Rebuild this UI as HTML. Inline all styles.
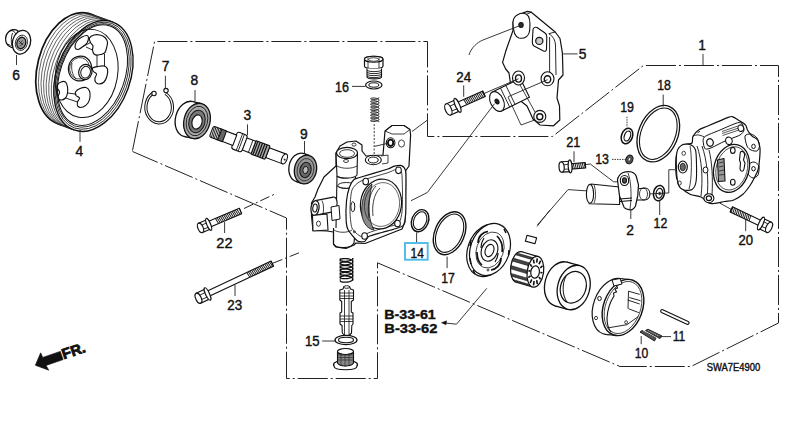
<!DOCTYPE html>
<html><head><meta charset="utf-8">
<style>
html,body{margin:0;padding:0;background:#fff;}
body{width:793px;height:439px;overflow:hidden;}
svg{display:block;}
.t{font-family:"Liberation Sans",sans-serif;font-size:13.8px;fill:#111;stroke:#111;stroke-width:0.4px;}
.b{font-family:"Liberation Sans",sans-serif;font-size:13.6px;font-weight:bold;fill:#111;stroke:#111;stroke-width:0.4px;}
.d{fill:none;stroke:#222;stroke-width:1;stroke-dasharray:30 3 2 3;}
.l{fill:none;stroke:#222;stroke-width:0.9;}
.p{fill:#fff;stroke:#111;stroke-width:1.1;stroke-linejoin:round;}
.q{fill:none;stroke:#111;stroke-width:0.8;}
</style></head><body>
<svg width="793" height="439" viewBox="0 0 793 439">
<rect width="793" height="439" fill="#fff"/>
<path d="M132.5,150.5 L154.6,41.5 L427.5,41.5 L427.5,136.5 L552.5,136.5 L643.4,65.5 L778.5,65.5 L778.5,323 L691,366.5 L620,366.5 L377.5,262.8 L377.5,378.5 L286.5,378.5 L286.5,218 L132.5,151.5" class="d"/>
<line x1="412" y1="131.5" x2="427.5" y2="120" class="l"/>
<ellipse rx="36.8" ry="57.3" transform="translate(74.2,68.9) rotate(14.3)" class="p" style="stroke-width:1.7"/>
<path d="M90.7,14.1 L112.9,22.1 L73.9,129.9 L57.7,123.7 Z" fill="#fff" stroke="none"/>
<path d="M90.7,14.1 L112.9,22.1 M57.7,123.7 L73.9,129.9" class="q" style="stroke-width:1.5"/>
<ellipse rx="36.8" ry="57.3" transform="translate(76.94,69.91) rotate(15.07)" class="q" style="stroke-width:0.7;stroke:#333"/>
<ellipse rx="36.8" ry="57.3" transform="translate(79.69,70.93) rotate(15.84)" class="q" style="stroke-width:0.7;stroke:#333"/>
<ellipse rx="36.8" ry="57.3" transform="translate(82.43,71.94) rotate(16.61)" class="q" style="stroke-width:0.7;stroke:#333"/>
<ellipse rx="36.8" ry="57.3" transform="translate(85.17,72.96) rotate(17.39)" class="q" style="stroke-width:0.7;stroke:#333"/>
<ellipse rx="36.8" ry="57.3" transform="translate(87.91,73.97) rotate(18.16)" class="q" style="stroke-width:0.7;stroke:#333"/>
<ellipse rx="36.8" ry="57.3" transform="translate(90.66,74.99) rotate(18.93)" class="q" style="stroke-width:0.7;stroke:#333"/>
<ellipse rx="36.8" ry="57.3" transform="translate(93.4,76) rotate(19.7)" class="p" style="stroke-width:1.4"/>
<ellipse rx="35.199999999999996" ry="55.5" transform="translate(93.10000000000001,75.7) rotate(19.7)" class="q" style="stroke-width:0.8"/>
<ellipse rx="33.599999999999994" ry="53.699999999999996" transform="translate(92.80000000000001,75.4) rotate(19.7)" class="q" style="stroke-width:0.8"/>
<ellipse rx="32.199999999999996" ry="52.099999999999994" transform="translate(92.5,75.1) rotate(19.7)" class="q" style="stroke-width:1"/>
<ellipse rx="31" ry="44.5" transform="translate(86.6,73.4) rotate(10.3)" class="q" style="stroke-width:1"/>
<path d="M75.0,47.0 C74.8,45.6 75.8,42.7 77.0,41.0 C78.2,39.3 80.3,37.9 82.0,37.0 C83.7,36.1 85.9,35.3 87.0,35.5 C88.1,35.7 88.5,36.8 88.5,38.0 C88.5,39.2 87.9,41.6 87.0,43.0 C86.1,44.4 84.5,45.4 83.0,46.5 C81.5,47.6 79.3,49.4 78.0,49.5 C76.7,49.6 75.2,48.4 75.0,47.0 Z" class="p" style="stroke-width:1.15;fill:none"/>
<path d="M89.5,38.0 C90.1,36.8 92.2,35.5 94.0,35.0 C95.8,34.5 98.2,34.6 100.0,35.0 C101.8,35.4 103.8,36.3 105.0,37.5 C106.2,38.7 107.2,40.2 107.5,42.0 C107.8,43.8 107.0,46.2 106.5,48.0 C106.0,49.8 105.9,51.8 104.5,53.0 C103.1,54.2 99.8,54.8 98.0,55.0 C96.2,55.2 94.9,54.8 94.0,54.0 C93.1,53.2 92.7,51.3 92.5,50.0 C92.3,48.7 93.3,47.2 93.0,46.0 C92.7,44.8 91.1,43.8 90.5,42.5 C89.9,41.2 88.9,39.2 89.5,38.0 Z" class="p" style="stroke-width:1.15;fill:none"/>
<path d="M92.5,68.0 C93.2,67.2 96.1,66.8 98.0,66.5 C99.9,66.2 102.4,65.6 104.0,66.0 C105.6,66.4 107.0,67.3 107.5,69.0 C108.0,70.7 107.6,73.8 107.0,76.0 C106.4,78.2 105.3,80.7 104.0,82.0 C102.7,83.3 100.4,84.0 99.0,84.0 C97.6,84.0 96.2,83.0 95.5,82.0 C94.8,81.0 94.8,79.3 95.0,78.0 C95.2,76.7 96.8,75.1 96.5,74.0 C96.2,72.9 94.2,72.5 93.5,71.5 C92.8,70.5 91.8,68.8 92.5,68.0 Z" class="p" style="stroke-width:1.15;fill:none"/>
<path d="M75.5,92.0 C76.2,90.8 78.2,89.2 80.0,88.5 C81.8,87.8 84.4,87.1 86.0,87.5 C87.6,87.9 88.8,89.4 89.5,91.0 C90.2,92.6 90.2,95.0 90.0,97.0 C89.8,99.0 89.2,101.3 88.0,103.0 C86.8,104.7 84.7,106.4 83.0,107.0 C81.3,107.6 78.9,107.3 78.0,106.5 C77.1,105.7 77.2,103.4 77.5,102.0 C77.8,100.6 79.8,99.1 79.5,98.0 C79.2,96.9 76.7,96.5 76.0,95.5 C75.3,94.5 74.8,93.2 75.5,92.0 Z" class="p" style="stroke-width:1.15;fill:none"/>
<path d="M57.5,85.0 C58.1,83.9 59.7,82.5 61.0,82.0 C62.3,81.5 64.4,81.2 65.5,82.0 C66.6,82.8 67.2,85.2 67.5,87.0 C67.8,88.8 67.8,91.2 67.5,93.0 C67.2,94.8 66.6,96.8 65.5,98.0 C64.4,99.2 62.2,100.1 61.0,100.0 C59.8,99.9 58.2,98.8 58.0,97.5 C57.8,96.2 59.6,93.5 59.5,92.0 C59.4,90.5 57.8,89.7 57.5,88.5 C57.2,87.3 56.9,86.1 57.5,85.0 Z" class="p" style="stroke-width:1.15;fill:none"/>
<path d="M97,55 L97,66.5 M104.5,54 L104.5,66 M67.5,93 L76.5,94.2 M65.5,98 L77.5,102 M86,47 L92.5,50 M83,46.5 L90.5,42.5" class="q" style="stroke-width:0.9"/>
<ellipse rx="11.5" ry="12.5" transform="translate(80,68.5) rotate(15)" class="p" style="stroke-width:1.2"/>
<ellipse rx="9.8" ry="10.8" transform="translate(79.5,68.3) rotate(15)" class="q" style="stroke-width:0.7"/>
<path d="M72,63 C71,68 72,75 76,79" class="q" style="stroke-width:0.8"/>
<ellipse rx="6.6" ry="7.6" transform="translate(85.3,72) rotate(15)" class="p" style="stroke-width:1.2"/>
<ellipse rx="4.8" ry="5.9" transform="translate(85.6,72.2) rotate(15)" class="q" style="stroke-width:1"/>
<line x1="80" y1="130" x2="80" y2="141.8" class="l"/>
<path d="M17.5,30.5 C15,29 11,29.5 8.5,32 C6,34.5 5.3,38 5.8,41 C6.3,44 8.5,46.5 11.5,47.3 L16,48 L18,31 Z" class="p" style="stroke-width:1.3"/>
<path d="M11,30.5 C13,30.5 15,32 16,34 M6.5,43.5 L10.5,45.5 M12.5,33 C11,37 11,42 12,46" class="q" style="stroke-width:0.9"/>
<ellipse rx="9" ry="12" transform="translate(21.5,42.2) rotate(15)" class="p" style="stroke-width:1.3"/>
<ellipse rx="6" ry="7.8" transform="translate(21.4,42.8) rotate(15)" class="q" style="stroke-width:0.8"/>
<ellipse rx="4.4" ry="5.8" transform="translate(21.3,43) rotate(15)" class="p" style="fill:#9a9a9a;stroke-width:1.3"/>
<path d="M19,41 L23,45 M19.5,44 L22.5,40.5 M20,46.5 L23.5,42.5" class="q" style="stroke-width:0.7"/>
<line x1="16.5" y1="55" x2="16.5" y2="65" class="l"/>
<line x1="703" y1="53.9" x2="703" y2="65.3" class="l"/>
<line x1="745.7" y1="219.7" x2="745.7" y2="231.2" class="l"/>
<path d="M154.2,92.8 A13.3,15.6 0 1 0 165.4,93.5" class="q" style="stroke-width:3.2;stroke:#111"/>
<path d="M154.2,92.8 A13.3,15.6 0 1 0 165.4,93.5" class="q" style="stroke-width:1.2;stroke:#fff"/>
<ellipse cx="154" cy="93.5" rx="2.2" ry="2.2" class="p" style="stroke-width:1.1"/>
<ellipse cx="166" cy="90.6" rx="2.2" ry="2.2" class="p" style="stroke-width:1.1"/>
<line x1="165.4" y1="75.7" x2="165.4" y2="89" class="l"/>
<ellipse rx="13" ry="18" transform="translate(188.5,119) rotate(15)" class="p" style="stroke-width:1.3;fill:#fff"/>
<path d="M192.88,101.54 L201.38,103.54 L192.62,138.46 L184.12,136.46 Z" fill="#fff" stroke="none"/>
<path d="M192.88,101.54 L201.38,103.54 M184.12,136.46 L192.62,138.46" class="q" style="stroke-width:1.3"/>
<ellipse rx="13" ry="18" transform="translate(197,121) rotate(15)" class="p" style="fill:#aaa;stroke-width:1.3"/>
<ellipse rx="10.5" ry="15" transform="translate(197,121) rotate(15)" class="q" style="stroke-width:0.9;stroke:#222"/>
<ellipse rx="8" ry="11.5" transform="translate(197,121.5) rotate(15)" class="p" style="fill:#777;stroke-width:1"/>
<ellipse rx="5" ry="7.2" transform="translate(197,122) rotate(15)" class="p" style="stroke-width:1.2"/>
<line x1="195" y1="90" x2="195" y2="101" class="l"/>
<g transform="translate(211.4,131.4) rotate(20.7)">
<rect x="60" y="-5.2" width="18" height="10.4" class="p"/>
<ellipse cx="78" cy="0" rx="2.6" ry="5.2" class="p"/>
<circle cx="78.5" cy="0.5" r="1" fill="#333"/>
<rect x="45" y="-7.2" width="15" height="14.4" rx="1" class="p" style="fill:#aaa"/>
<line x1="47" y1="-7.2" x2="47" y2="7.2" class="q" style="stroke-width:1.2"/>
<line x1="49.5" y1="-7.2" x2="49.5" y2="7.2" class="q" style="stroke-width:1.2"/>
<line x1="52" y1="-7.2" x2="52" y2="7.2" class="q" style="stroke-width:1.2"/>
<line x1="54.5" y1="-7.2" x2="54.5" y2="7.2" class="q" style="stroke-width:1.2"/>
<line x1="57" y1="-7.2" x2="57" y2="7.2" class="q" style="stroke-width:1.2"/>
<rect x="35" y="-6.5" width="10" height="13" class="p"/>
<line x1="42" y1="-6.5" x2="42" y2="6.5" class="q"/>
<rect x="24.5" y="-9" width="11" height="18" rx="2.5" class="p"/>
<line x1="30" y1="-9" x2="30" y2="9" class="q"/><line x1="32" y1="-9" x2="32" y2="9" class="q"/>
<rect x="12" y="-5.5" width="13" height="11" class="p"/>
<rect x="8" y="-5.8" width="6" height="11.6" class="p" style="fill:#666"/>
<rect x="0" y="-5.8" width="9" height="11.6" rx="2" class="p"/>
<line x1="1.2" y1="-5.8" x2="2.1" y2="5.8" class="q" style="stroke-width:0.9"/>
<line x1="2.8" y1="-5.8" x2="3.6999999999999997" y2="5.8" class="q" style="stroke-width:0.9"/>
<line x1="4.4" y1="-5.8" x2="5.300000000000001" y2="5.8" class="q" style="stroke-width:0.9"/>
<line x1="6" y1="-5.8" x2="6.9" y2="5.8" class="q" style="stroke-width:0.9"/>
<line x1="7.6" y1="-5.8" x2="8.5" y2="5.8" class="q" style="stroke-width:0.9"/>
</g>
<line x1="247.5" y1="124.4" x2="247.5" y2="135.3" class="l"/>
<ellipse rx="11" ry="14.5" transform="translate(300,167.5) rotate(12)" class="p" style="stroke-width:1.3;fill:#fff"/>
<path d="M304.14,153.64 L309.64,155.64 L301.36,183.36 L295.86,181.36 Z" fill="#fff" stroke="none"/>
<path d="M304.14,153.64 L309.64,155.64 M295.86,181.36 L301.36,183.36" class="q" style="stroke-width:1.3"/>
<ellipse rx="11" ry="14.5" transform="translate(305.5,169.5) rotate(12)" class="p" style="fill:#999;stroke-width:1.3"/>
<ellipse rx="8.3" ry="11.3" transform="translate(305.5,169.7) rotate(12)" class="q" style="stroke-width:0.9;stroke:#333"/>
<ellipse rx="5.6" ry="7.8" transform="translate(305.5,170) rotate(12)" class="p" style="fill:#666;stroke-width:1"/>
<ellipse rx="2.6" ry="3.6" transform="translate(305.5,170) rotate(12)" class="p" style="fill:#bbb;stroke-width:0.9"/>
<line x1="304.5" y1="141" x2="304.5" y2="154" class="l"/>
<g transform="translate(208.7,224.4) rotate(-22.85)">
<rect x="0" y="-3" width="34.5" height="6" class="p"/>
<line x1="8.5" y1="-3" x2="9.4" y2="3" class="q" style="stroke-width:0.9"/>
<line x1="10.3" y1="-3" x2="11.2" y2="3" class="q" style="stroke-width:0.9"/>
<line x1="12.1" y1="-3" x2="13.0" y2="3" class="q" style="stroke-width:0.9"/>
<line x1="13.9" y1="-3" x2="14.8" y2="3" class="q" style="stroke-width:0.9"/>
<line x1="15.7" y1="-3" x2="16.6" y2="3" class="q" style="stroke-width:0.9"/>
<line x1="17.5" y1="-3" x2="18.4" y2="3" class="q" style="stroke-width:0.9"/>
<line x1="19.3" y1="-3" x2="20.2" y2="3" class="q" style="stroke-width:0.9"/>
<line x1="21.1" y1="-3" x2="22.0" y2="3" class="q" style="stroke-width:0.9"/>
<line x1="22.9" y1="-3" x2="23.8" y2="3" class="q" style="stroke-width:0.9"/>
<line x1="24.7" y1="-3" x2="25.6" y2="3" class="q" style="stroke-width:0.9"/>
<line x1="26.5" y1="-3" x2="27.4" y2="3" class="q" style="stroke-width:0.9"/>
<line x1="28.3" y1="-3" x2="29.2" y2="3" class="q" style="stroke-width:0.9"/>
<line x1="30.1" y1="-3" x2="31.0" y2="3" class="q" style="stroke-width:0.9"/>
<line x1="31.9" y1="-3" x2="32.8" y2="3" class="q" style="stroke-width:0.9"/>
<path d="M34.0,-3 L34.5,-2 L34.5,2 L34.0,3" class="q"/>
<path d="M-8.9,-5.1 L0,-5.1 L0,5.1 L-8.9,5.1 Z" class="p"/>
<ellipse cx="0" cy="0" rx="1.9" ry="6.4" class="p" style="stroke-width:1.2"/>
<path d="M-8.9,-1.9 L-1.3,-2.2 M-8.9,2.2 L-1.3,2.6" class="q"/>
<ellipse cx="-8.9" cy="0" rx="2.6" ry="5.1" class="p" style="stroke-width:1.2"/>
</g>
<line x1="224.6" y1="222" x2="224.6" y2="233" class="l"/>
<path d="M244,208.5 L275,194" class="d" style="stroke-dasharray:10 3 2 3"/>
<g transform="translate(207.5,294) rotate(-25.13)">
<rect x="0" y="-2.8" width="71.6" height="5.6" class="p"/>
<line x1="44.6" y1="-2.8" x2="45.5" y2="2.8" class="q" style="stroke-width:0.9"/>
<line x1="46.4" y1="-2.8" x2="47.3" y2="2.8" class="q" style="stroke-width:0.9"/>
<line x1="48.2" y1="-2.8" x2="49.1" y2="2.8" class="q" style="stroke-width:0.9"/>
<line x1="50.0" y1="-2.8" x2="50.9" y2="2.8" class="q" style="stroke-width:0.9"/>
<line x1="51.8" y1="-2.8" x2="52.7" y2="2.8" class="q" style="stroke-width:0.9"/>
<line x1="53.6" y1="-2.8" x2="54.5" y2="2.8" class="q" style="stroke-width:0.9"/>
<line x1="55.4" y1="-2.8" x2="56.3" y2="2.8" class="q" style="stroke-width:0.9"/>
<line x1="57.2" y1="-2.8" x2="58.1" y2="2.8" class="q" style="stroke-width:0.9"/>
<line x1="59.0" y1="-2.8" x2="59.9" y2="2.8" class="q" style="stroke-width:0.9"/>
<line x1="60.8" y1="-2.8" x2="61.7" y2="2.8" class="q" style="stroke-width:0.9"/>
<line x1="62.6" y1="-2.8" x2="63.5" y2="2.8" class="q" style="stroke-width:0.9"/>
<line x1="64.4" y1="-2.8" x2="65.3" y2="2.8" class="q" style="stroke-width:0.9"/>
<line x1="66.2" y1="-2.8" x2="67.1" y2="2.8" class="q" style="stroke-width:0.9"/>
<line x1="68.0" y1="-2.8" x2="68.9" y2="2.8" class="q" style="stroke-width:0.9"/>
<line x1="69.8" y1="-2.8" x2="70.7" y2="2.8" class="q" style="stroke-width:0.9"/>
<path d="M71.1,-2.8 L71.6,-1.7999999999999998 L71.6,1.7999999999999998 L71.1,2.8" class="q"/>
<path d="M-10.0,-5.4 L0,-5.4 L0,5.4 L-10.0,5.4 Z" class="p"/>
<ellipse cx="0" cy="0" rx="2.0" ry="6.8" class="p" style="stroke-width:1.2"/>
<path d="M-10.0,-2.0 L-1.4,-2.4 M-10.0,2.4 L-1.4,2.7" class="q"/>
<ellipse cx="-10.0" cy="0" rx="2.7" ry="5.4" class="p" style="stroke-width:1.2"/>
</g>
<line x1="235" y1="285" x2="235" y2="296" class="l"/>
<path d="M273,263.2 L301,252" class="d" style="stroke-dasharray:10 3 2 3"/>
<path d="M336,153 L340,146 L347,142 L356,141 L362,145 L362,151 L366,156 L383,155 L385,131 L392,125.5 L404,125.5 L410,129.5 L410.6,135 L409,166 L405.5,171 L405.6,184 L405,222 L402,229 L365,243.5 L356,243 L354,245 L346,248.5 L336,247 L333.5,244 L333.5,232 L327,231 L313,230.5 L311.5,216 L311.5,203 L315,197 L318,189 L324,177 L336,166 Z" class="p" style="stroke-width:1.2"/>
<path d="M337,176 L336,228 M355.5,176 L355,226" class="q" style="stroke-width:1.1"/>
<path d="M337,186 C341,189 351,189 355.5,186" class="q"/>
<ellipse cx="346.3" cy="185.5" rx="8.5" ry="3" class="q" style="stroke-width:0.9"/>
<path d="M359.5,177.5 C363.4,176.3 383.1,170.5 387.2,169.2 C391.3,167.9 392.7,166.6 394.4,166.2 C396.1,165.8 400.3,165.0 401.6,165.6 C402.9,166.2 405.2,168.4 405.7,171.5 C406.2,174.6 405.9,187.1 405.9,192.0 C405.9,196.9 406.0,209.6 405.7,213.4 C405.4,217.2 404.7,223.2 403.5,225.0 C402.3,226.8 397.9,227.9 395.4,228.8 C392.9,229.7 385.1,231.6 382.0,232.5 C378.9,233.4 370.7,235.4 368.7,236.5 C366.7,237.6 365.9,241.0 364.6,241.5 C363.3,242.0 359.4,242.3 357.5,241.0 C355.6,239.7 349.5,232.3 348.2,230.0 C346.9,227.7 346.4,225.0 346.2,221.6 C346.0,218.2 346.1,205.0 346.5,201.0 C346.9,197.0 348.6,189.5 349.5,187.0 C350.4,184.5 352.8,180.6 354.0,179.5 C355.2,178.4 355.6,178.7 359.5,177.5 Z" class="p" style="stroke-width:1.2"/>
<path d="M361.0,181.0 C365.1,179.0 382.9,174.3 387.0,173.0 C391.1,171.7 394.3,169.6 396.0,169.5 C397.7,169.4 400.7,169.4 401.5,172.0 C402.3,174.6 402.4,187.3 402.5,192.0 C402.6,196.7 402.4,208.5 402.0,212.0 C401.6,215.5 400.6,220.4 399.5,222.0 C398.4,223.6 395.3,224.7 393.0,225.5 C390.7,226.3 382.9,228.1 380.0,229.0 C377.1,229.9 370.2,232.1 368.0,233.0 C365.8,233.9 362.9,237.1 361.0,236.5 C359.1,235.9 353.3,231.1 352.0,228.0 C350.7,224.9 350.0,214.4 350.0,210.0 C350.0,205.6 350.7,193.4 352.0,190.0 C353.3,186.6 356.9,183.0 361.0,181.0 Z" class="q" style="stroke-width:0.8"/>
<ellipse rx="20.5" ry="25" transform="translate(381,204) rotate(8)" class="p" style="stroke-width:1.2"/>
<path d="M372,184 C364,190 360.5,203 362,216 C363.5,224 368,229 374,230 C369,221 367,207 372,184 Z" class="p" style="fill:#8a8a8a;stroke-width:0.8"/>
<path d="M376,186 C369,193 367,207 369,218 M380,188 C373,195 372,207 373,216" class="q" style="stroke-width:0.8"/>
<ellipse rx="17.5" ry="22" transform="translate(382,204.5) rotate(8)" class="q" style="stroke-width:0.6"/>
<ellipse cx="365.7" cy="181.6" rx="2.8" ry="3.3" class="p" style="stroke-width:1.1"/>
<ellipse cx="398.5" cy="170.3" rx="2.8" ry="3.3" class="p" style="stroke-width:1.1"/>
<ellipse cx="397.5" cy="223.6" rx="2.8" ry="3.3" class="p" style="stroke-width:1.1"/>
<ellipse cx="364.6" cy="236" rx="2.8" ry="3.3" class="p" style="stroke-width:1.1"/>
<ellipse cx="352.8" cy="206.7" rx="2" ry="5" class="q" style="stroke-width:1"/>
<ellipse cx="354.4" cy="231.8" rx="1" ry="1" class="q"/>
<path d="M336,153 L337,176 C340,179 354,179 357,175 L357.5,153 Z" class="p"/>
<ellipse cx="347" cy="153" rx="10.5" ry="5.6" class="p"/>
<ellipse cx="347" cy="153.5" rx="7.5" ry="3.8" class="q"/>
<path d="M337,166 C342,169 352,169 357,166" class="q"/>
<ellipse cx="346" cy="161" rx="2.5" ry="1.5" class="q"/>
<ellipse cx="354" cy="144.6" rx="2" ry="1.6" class="q"/>
<ellipse cx="373.3" cy="160" rx="8" ry="4.8" class="p"/>
<ellipse cx="373.3" cy="160" rx="5" ry="3" class="p" style="stroke-width:1"/>
<path d="M381,156 L388,155 L388,163 L382,164" class="q"/>
<path d="M385,131 L392,125.5 L404,125.5 L410,129.5 L404,134 L392,134 Z" class="q"/>
<ellipse cx="390.6" cy="142.8" rx="4.3" ry="5" class="p" style="stroke-width:1.1"/>
<ellipse cx="390.6" cy="142.8" rx="2.6" ry="3.2" class="p" style="stroke-width:1.8"/>
<line x1="375" y1="146.3" x2="389" y2="143" class="l"/>
<ellipse cx="401.5" cy="143.5" rx="3" ry="3.6" class="q"/>
<ellipse rx="4" ry="7.5" transform="translate(333,204.5) rotate(8)" class="p" style="stroke-width:1.1;fill:#fff"/>
<path d="M332.69,211.91 L314.69,215.41 L315.31,200.59 L333.31,197.09 Z" fill="#fff" stroke="none"/>
<path d="M332.69,211.91 L314.69,215.41 M333.31,197.09 L315.31,200.59" class="q" style="stroke-width:1.1"/>
<ellipse rx="4" ry="7.5" transform="translate(315,208) rotate(8)" class="p" style="stroke-width:1.2"/>
<ellipse rx="2.2" ry="4" transform="translate(315,208) rotate(8)" class="p" style="stroke-width:1.1"/>
<path d="M322,200.5 C324,204 324,212 322.5,215.5" class="q" style="stroke-width:0.8"/>
<path d="M331,207 L339,205.5 L340,219 L332,220.5 Z" class="p" style="stroke-width:1"/>
<path d="M312.5,215.5 L327,214 L328,230 L313,231 Z" class="p"/>
<ellipse cx="318.5" cy="223.7" rx="2" ry="2.6" class="q"/>
<path d="M333.5,228 L333.5,244 C336,249 351,249 354,243 L354.5,238" class="q" style="stroke-width:1.1"/>
<path d="M334,230 C338,233 348,233 352,230" class="q"/>
<line x1="374.2" y1="124" x2="374.2" y2="156" class="l" style="stroke-dasharray:2 1.5"/>
<path d="M364.5,59 C364.5,55.5 383,55.5 383,59 L383,66 C383,69.5 364.5,69.5 364.5,66 Z" class="p" style="stroke-width:1.2"/>
<ellipse cx="373.7" cy="59.2" rx="9.2" ry="3" class="p"/>
<ellipse cx="373.7" cy="59.5" rx="5" ry="1.8" class="q"/>
<line x1="368" y1="57.5" x2="368" y2="68" class="q"/>
<line x1="379" y1="57.5" x2="379" y2="68" class="q"/>
<path d="M367,68.5 L367,77 C367,79.5 381.5,79.5 381.5,77 L381.5,68.5" class="p"/>
<path d="M367,70.5 C370,72.0 378,72.0 381.5,70.5" class="q" style="stroke-width:0.9"/>
<path d="M367,72.5 C370,74.0 378,74.0 381.5,72.5" class="q" style="stroke-width:0.9"/>
<path d="M367,74.5 C370,76.0 378,76.0 381.5,74.5" class="q" style="stroke-width:0.9"/>
<path d="M367,76.5 C370,78.0 378,78.0 381.5,76.5" class="q" style="stroke-width:0.9"/>
<ellipse cx="373.8" cy="85" rx="8.2" ry="4" class="p" style="stroke-width:1.2"/>
<ellipse cx="373.8" cy="85" rx="5" ry="2.2" class="q" style="stroke-width:1"/>
<line x1="352" y1="86.4" x2="365.5" y2="86.4" class="l"/>
<path d="M379.00,97.40 L378.94,97.72 L378.75,98.03 L378.44,98.33 L378.02,98.60 L377.50,98.85 L376.90,99.07 L376.24,99.25 L375.53,99.39 L374.80,99.49 L374.07,99.54 L373.36,99.55 L372.70,99.53 L372.10,99.46 L371.58,99.37 L371.16,99.24 L370.85,99.10 L370.66,98.94 L370.60,98.77 L370.66,98.61 L370.85,98.45 L371.16,98.30 L371.58,98.18 L372.10,98.08 L372.70,98.02 L373.36,97.99 L374.07,98.00 L374.80,98.06 L375.53,98.16 L376.24,98.30 L376.90,98.47 L377.50,98.69 L378.02,98.94 L378.44,99.22 L378.75,99.51 L378.94,99.83 L379.00,100.14 L378.94,100.46 L378.75,100.78 L378.44,101.07 L378.02,101.35 L377.50,101.60 L376.90,101.81 L376.24,101.99 L375.53,102.13 L374.80,102.23 L374.07,102.29 L373.36,102.30 L372.70,102.27 L372.10,102.21 L371.58,102.11 L371.16,101.99 L370.85,101.84 L370.66,101.68 L370.60,101.52 L370.66,101.35 L370.85,101.19 L371.16,101.05 L371.58,100.92 L372.10,100.83 L372.70,100.76 L373.36,100.73 L374.07,100.75 L374.80,100.80 L375.53,100.90 L376.24,101.04 L376.90,101.22 L377.50,101.44 L378.02,101.68 L378.44,101.96 L378.75,102.26 L378.94,102.57 L379.00,102.89 L378.94,103.21 L378.75,103.52 L378.44,103.82 L378.02,104.09 L377.50,104.34 L376.90,104.56 L376.24,104.74 L375.53,104.88 L374.80,104.98 L374.07,105.03 L373.36,105.04 L372.70,105.02 L372.10,104.95 L371.58,104.86 L371.16,104.73 L370.85,104.59 L370.66,104.43 L370.60,104.26 L370.66,104.09 L370.85,103.93 L371.16,103.79 L371.58,103.67 L372.10,103.57 L372.70,103.51 L373.36,103.48 L374.07,103.49 L374.80,103.55 L375.53,103.64 L376.24,103.78 L376.90,103.96 L377.50,104.18 L378.02,104.43 L378.44,104.70 L378.75,105.00 L378.94,105.31 L379.00,105.63 L378.94,105.95 L378.75,106.26 L378.44,106.56 L378.02,106.84 L377.50,107.09 L376.90,107.30 L376.24,107.48 L375.53,107.62 L374.80,107.72 L374.07,107.77 L373.36,107.79 L372.70,107.76 L372.10,107.70 L371.58,107.60 L371.16,107.48 L370.85,107.33 L370.66,107.17 L370.60,107.01 L370.66,106.84 L370.85,106.68 L371.16,106.53 L371.58,106.41 L372.10,106.31 L372.70,106.25 L373.36,106.22 L374.07,106.24 L374.80,106.29 L375.53,106.39 L376.24,106.53 L376.90,106.71 L377.50,106.92 L378.02,107.17 L378.44,107.45 L378.75,107.75 L378.94,108.06 L379.00,108.38 L378.94,108.70 L378.75,109.01 L378.44,109.31 L378.02,109.58 L377.50,109.83 L376.90,110.05 L376.24,110.23 L375.53,110.37 L374.80,110.46 L374.07,110.52 L373.36,110.53 L372.70,110.51 L372.10,110.44 L371.58,110.34 L371.16,110.22 L370.85,110.08 L370.66,109.92 L370.60,109.75 L370.66,109.58 L370.85,109.42 L371.16,109.28 L371.58,109.16 L372.10,109.06 L372.70,108.99 L373.36,108.97 L374.07,108.98 L374.80,109.04 L375.53,109.13 L376.24,109.27 L376.90,109.45 L377.50,109.67 L378.02,109.92 L378.44,110.19 L378.75,110.49 L378.94,110.80 L379.00,111.12 L378.94,111.44 L378.75,111.75 L378.44,112.05 L378.02,112.33 L377.50,112.58 L376.90,112.79 L376.24,112.97 L375.53,113.11 L374.80,113.21 L374.07,113.26 L373.36,113.28 L372.70,113.25 L372.10,113.19 L371.58,113.09 L371.16,112.97 L370.85,112.82 L370.66,112.66 L370.60,112.49 L370.66,112.33 L370.85,112.17 L371.16,112.02 L371.58,111.90 L372.10,111.80 L372.70,111.74 L373.36,111.71 L374.07,111.73 L374.80,111.78 L375.53,111.88 L376.24,112.02 L376.90,112.20 L377.50,112.41 L378.02,112.66 L378.44,112.94 L378.75,113.24 L378.94,113.55 L379.00,113.87 L378.94,114.19 L378.75,114.50 L378.44,114.80 L378.02,115.07 L377.50,115.32 L376.90,115.54 L376.24,115.72 L375.53,115.86 L374.80,115.95 L374.07,116.01 L373.36,116.02 L372.70,115.99 L372.10,115.93 L371.58,115.83 L371.16,115.71 L370.85,115.57 L370.66,115.41 L370.60,115.24 L370.66,115.07 L370.85,114.91 L371.16,114.77 L371.58,114.64 L372.10,114.55 L372.70,114.48 L373.36,114.46 L374.07,114.47 L374.80,114.53 L375.53,114.62 L376.24,114.76 L376.90,114.94 L377.50,115.16 L378.02,115.41 L378.44,115.68 L378.75,115.98 L378.94,116.29 L379.00,116.61 L378.94,116.93 L378.75,117.24 L378.44,117.54 L378.02,117.82 L377.50,118.06 L376.90,118.28 L376.24,118.46 L375.53,118.60 L374.80,118.70 L374.07,118.75 L373.36,118.77 L372.70,118.74 L372.10,118.67 L371.58,118.58 L371.16,118.45 L370.85,118.31 L370.66,118.15 L370.60,117.98 L370.66,117.82 L370.85,117.66 L371.16,117.51 L371.58,117.39 L372.10,117.29 L372.70,117.23 L373.36,117.20 L374.07,117.21 L374.80,117.27 L375.53,117.37 L376.24,117.51 L376.90,117.69 L377.50,117.90 L378.02,118.15 L378.44,118.43 L378.75,118.72 L378.94,119.04 L379.00,119.36 L378.94,119.67 L378.75,119.99 L378.44,120.28 L378.02,120.56 L377.50,120.81 L376.90,121.03 L376.24,121.20 L375.53,121.34 L374.80,121.44 L374.07,121.50 L373.36,121.51 L372.70,121.48 L372.10,121.42 L371.58,121.32 L371.16,121.20 L370.85,121.05 L370.66,120.89 L370.60,120.73 L370.66,120.56 L370.85,120.40 L371.16,120.26 L371.58,120.13 L372.10,120.04 L372.70,119.97 L373.36,119.95 L374.07,119.96 L374.80,120.01 L375.53,120.11 L376.24,120.25 L376.90,120.43 L377.50,120.65 L378.02,120.90 L378.44,121.17 L378.75,121.47 L378.94,121.78 L379.00,122.10" fill="none" stroke="#111" stroke-width="1.0" stroke-linejoin="round"/>
<path d="M352.80,258.20 L352.70,258.68 L352.42,259.15 L351.96,259.59 L351.33,260.00 L350.55,260.37 L349.65,260.68 L348.65,260.94 L347.59,261.14 L346.50,261.27 L345.41,261.33 L344.35,261.33 L343.35,261.26 L342.45,261.14 L341.67,260.97 L341.04,260.75 L340.58,260.50 L340.30,260.22 L340.20,259.94 L340.30,259.65 L340.58,259.38 L341.04,259.13 L341.67,258.91 L342.45,258.74 L343.35,258.61 L344.35,258.55 L345.41,258.54 L346.50,258.61 L347.59,258.74 L348.65,258.93 L349.65,259.19 L350.55,259.51 L351.33,259.88 L351.96,260.29 L352.42,260.73 L352.70,261.20 L352.80,261.68 L352.70,262.16 L352.42,262.62 L351.96,263.07 L351.33,263.48 L350.55,263.85 L349.65,264.16 L348.65,264.42 L347.59,264.62 L346.50,264.75 L345.41,264.81 L344.35,264.81 L343.35,264.74 L342.45,264.62 L341.67,264.44 L341.04,264.23 L340.58,263.97 L340.30,263.70 L340.20,263.42 L340.30,263.13 L340.58,262.86 L341.04,262.61 L341.67,262.39 L342.45,262.21 L343.35,262.09 L344.35,262.02 L345.41,262.02 L346.50,262.08 L347.59,262.21 L348.65,262.41 L349.65,262.67 L350.55,262.99 L351.33,263.35 L351.96,263.76 L352.42,264.21 L352.70,264.68 L352.80,265.15 L352.70,265.63 L352.42,266.10 L351.96,266.54 L351.33,266.95 L350.55,267.32 L349.65,267.64 L348.65,267.90 L347.59,268.09 L346.50,268.22 L345.41,268.29 L344.35,268.28 L343.35,268.22 L342.45,268.09 L341.67,267.92 L341.04,267.70 L340.58,267.45 L340.30,267.18 L340.20,266.89 L340.30,266.61 L340.58,266.33 L341.04,266.08 L341.67,265.86 L342.45,265.69 L343.35,265.57 L344.35,265.50 L345.41,265.50 L346.50,265.56 L347.59,265.69 L348.65,265.89 L349.65,266.15 L350.55,266.46 L351.33,266.83 L351.96,267.24 L352.42,267.69 L352.70,268.15 L352.80,268.63 L352.70,269.11 L352.42,269.58 L351.96,270.02 L351.33,270.43 L350.55,270.80 L349.65,271.12 L348.65,271.37 L347.59,271.57 L346.50,271.70 L345.41,271.76 L344.35,271.76 L343.35,271.69 L342.45,271.57 L341.67,271.40 L341.04,271.18 L340.58,270.93 L340.30,270.65 L340.20,270.37 L340.30,270.08 L340.58,269.81 L341.04,269.56 L341.67,269.34 L342.45,269.17 L343.35,269.04 L344.35,268.98 L345.41,268.98 L346.50,269.04 L347.59,269.17 L348.65,269.36 L349.65,269.62 L350.55,269.94 L351.33,270.31 L351.96,270.72 L352.42,271.16 L352.70,271.63 L352.80,272.11 L352.70,272.59 L352.42,273.05 L351.96,273.50 L351.33,273.91 L350.55,274.28 L349.65,274.59 L348.65,274.85 L347.59,275.05 L346.50,275.18 L345.41,275.24 L344.35,275.24 L343.35,275.17 L342.45,275.05 L341.67,274.87 L341.04,274.66 L340.58,274.41 L340.30,274.13 L340.20,273.85 L340.30,273.56 L340.58,273.29 L341.04,273.04 L341.67,272.82 L342.45,272.64 L343.35,272.52 L344.35,272.45 L345.41,272.45 L346.50,272.52 L347.59,272.65 L348.65,272.84 L349.65,273.10 L350.55,273.42 L351.33,273.78 L351.96,274.19 L352.42,274.64 L352.70,275.11 L352.80,275.58 L352.70,276.06 L352.42,276.53 L351.96,276.97 L351.33,277.39 L350.55,277.75 L349.65,278.07 L348.65,278.33 L347.59,278.52 L346.50,278.65 L345.41,278.72 L344.35,278.71 L343.35,278.65 L342.45,278.53 L341.67,278.35 L341.04,278.13 L340.58,277.88 L340.30,277.61 L340.20,277.32 L340.30,277.04 L340.58,276.76 L341.04,276.51 L341.67,276.30 L342.45,276.12 L343.35,276.00 L344.35,275.93 L345.41,275.93 L346.50,275.99 L347.59,276.12 L348.65,276.32 L349.65,276.58 L350.55,276.89 L351.33,277.26 L351.96,277.67 L352.42,278.12 L352.70,278.58 L352.80,279.06 L352.70,279.54 L352.42,280.01 L351.96,280.45 L351.33,280.86 L350.55,281.23 L349.65,281.55 L348.65,281.80 L347.59,282.00 L346.50,282.13 L345.41,282.19 L344.35,282.19 L343.35,282.13 L342.45,282.00 L341.67,281.83 L341.04,281.61 L340.58,281.36 L340.30,281.09 L340.20,280.80" fill="none" stroke="#111" stroke-width="1.3" stroke-linejoin="round"/>
<path d="M340.2,258 L340.2,281 M352.8,258 L352.8,281" class="q" style="stroke-width:0.8"/>
<path d="M344,286.5 L349.5,286.5 L350.5,289 L353.5,290 L353.5,300 L351.3,301.5 L351.3,312 L353,313 L353,324 L351.8,325.5 L351.5,333 L349,335.5 L344.5,335.5 L342.3,333 L342,325.5 L340,324 L340,313 L341.7,312 L341.7,301.5 L339.8,300 L339.8,290 L343,289 Z" class="p" style="stroke-width:1.1"/>
<path d="M340,293 L353.5,293 M340,296 L353.5,296 M340,298.5 L353.5,298.5 M340,316 L353,316 M340,319 L353,319 M340,321.5 L353,321.5 M344.5,290 L344.5,335 M349,290 L349,335" class="q" style="stroke-width:0.8"/>
<ellipse cx="346.7" cy="287" rx="3" ry="1.3" class="p" style="stroke-width:0.9"/>
<ellipse cx="346" cy="340" rx="11" ry="4.6" class="p" style="stroke-width:1.3"/>
<ellipse cx="346" cy="340" rx="7.5" ry="2.7" class="q" style="stroke-width:1.1"/>
<line x1="322.1" y1="341" x2="335.5" y2="341" class="l"/>
<ellipse cx="345.5" cy="364.5" rx="12" ry="4.2" class="p" style="stroke-width:1.2"/>
<path d="M334,364.5 L334,366 C334,371 357,371 357,366 L357,364.5" class="p" style="stroke-width:1.1"/>
<path d="M337.5,351.5 L337.5,363 C340,367 351,367 353.5,363 L353.5,351.5 Z" class="p" style="fill:#888;stroke-width:1.1"/>
<ellipse cx="345.5" cy="351.5" rx="8" ry="3" class="p" style="stroke-width:1.1"/>
<path d="M338,355 L353,355 M338,357.5 L353,357.5 M338,360 L353,360 M341,353 L341,366 M345,354 L345,367 M349,353 L349,366" class="q" style="stroke-width:0.6;stroke:#222"/>
<path d="M513,22.5 L515.3,17 L521,13.8 L527.3,11.4 L531.3,12.2 L555.2,32 L560,38.5 L562.4,52.9 L563,75 L558.5,80 L557,98 L559.5,106 L559.8,120 L553.5,125.8 L540,125 L533,119 L527,106 L512,94 L509,73 L505.7,69 L502.6,62.4 L505.7,51.3 L513,30.5 Z" class="p" style="stroke-width:1.2"/>
<path d="M531.3,12.2 L525,15 L527,33 M548.8,33.7 C553,36 555.2,40 555.5,45 L556,75 M549.6,37 L549.6,76 M555.2,32 L548.8,33.7" class="q" style="stroke-width:0.9"/>
<path d="M513,22.5 C513,15 521,12 526,14 C530,16 530.5,22 529.7,30 C529,37 524,39 519,38 C514,36.5 513,30 513,22.5 Z" class="p"/>
<ellipse cx="521" cy="25" rx="2.2" ry="2.5" class="p" style="fill:#333"/>
<path d="M533,30 C533,27.5 535,27 537,27.5 L545,33 C546.5,34 546.8,35 546.8,37 L546.5,49 C546.5,51 545,51.5 543.5,51 L534,46 C532.5,45 532.3,44 532.3,42 Z" class="p"/>
<ellipse cx="539.3" cy="40.9" rx="3.6" ry="3.6" class="p" style="fill:#ccc;stroke-width:1.2"/>
<g transform="translate(497,101.5) rotate(-26)"><path d="M0,-10.5 L31,-10.5 L31,10.5 L0,10.5 Z" class="p"/><ellipse rx="6.5" ry="10.5" class="p"/><ellipse rx="1.8" ry="2.6" class="p" style="fill:#222"/><line x1="9" y1="-10.5" x2="9" y2="10.5" class="q"/><line x1="15" y1="-10.5" x2="15" y2="10.5" class="q"/></g>
<ellipse cx="518.5" cy="78" rx="6" ry="7" class="p"/>
<ellipse cx="518.5" cy="78.5" rx="3" ry="3.6" class="p" style="stroke-width:1.4"/>
<ellipse cx="547.5" cy="78.8" rx="6.5" ry="7" class="p"/>
<ellipse cx="547.5" cy="79.3" rx="3.2" ry="3.6" class="p" style="stroke-width:1.4"/>
<path d="M508,97 L521,125 L540,118 M520,85 L535,112" class="q"/>
<ellipse cx="539.8" cy="116.4" rx="6" ry="6" class="p"/>
<ellipse cx="539.8" cy="116.8" rx="3" ry="3" class="p" style="stroke-width:1.4"/>
<line x1="563.2" y1="53.9" x2="577.6" y2="53.9" class="l"/>
<path d="M521.5,25 L483,40 C477,42.5 471,48 469,55" class="l"/>
<line x1="518.5" y1="78.8" x2="484" y2="93.5" class="l"/>
<line x1="547.5" y1="79.7" x2="508.2" y2="96.7" class="l"/>
<path d="M494.5,103.7 L427.3,192.5 L411,200.7" class="l"/>
<g transform="translate(457.5,105.4) rotate(-23.82)">
<rect x="0" y="-3" width="29.0" height="6" class="p"/>
<line x1="8.0" y1="-3" x2="8.9" y2="3" class="q" style="stroke-width:0.9"/>
<line x1="9.8" y1="-3" x2="10.7" y2="3" class="q" style="stroke-width:0.9"/>
<line x1="11.6" y1="-3" x2="12.5" y2="3" class="q" style="stroke-width:0.9"/>
<line x1="13.4" y1="-3" x2="14.3" y2="3" class="q" style="stroke-width:0.9"/>
<line x1="15.2" y1="-3" x2="16.1" y2="3" class="q" style="stroke-width:0.9"/>
<line x1="17.0" y1="-3" x2="17.9" y2="3" class="q" style="stroke-width:0.9"/>
<line x1="18.8" y1="-3" x2="19.7" y2="3" class="q" style="stroke-width:0.9"/>
<line x1="20.6" y1="-3" x2="21.5" y2="3" class="q" style="stroke-width:0.9"/>
<line x1="22.4" y1="-3" x2="23.3" y2="3" class="q" style="stroke-width:0.9"/>
<line x1="24.2" y1="-3" x2="25.1" y2="3" class="q" style="stroke-width:0.9"/>
<line x1="26.0" y1="-3" x2="26.9" y2="3" class="q" style="stroke-width:0.9"/>
<line x1="27.8" y1="-3" x2="28.7" y2="3" class="q" style="stroke-width:0.9"/>
<path d="M28.5,-3 L29.0,-2 L29.0,2 L28.5,3" class="q"/>
<path d="M-10.0,-6.0 L0,-6.0 L0,6.0 L-10.0,6.0 Z" class="p"/>
<ellipse cx="0" cy="0" rx="2.2" ry="7.5" class="p" style="stroke-width:1.2"/>
<path d="M-10.0,-2.2 L-1.5,-2.6 M-10.0,2.6 L-1.5,3.0" class="q"/>
<ellipse cx="-10.0" cy="0" rx="3.0" ry="6.0" class="p" style="stroke-width:1.2"/>
</g>
<line x1="463.7" y1="85.3" x2="463.7" y2="96.8" class="l"/>
<ellipse rx="19.6" ry="29.4" transform="translate(658.3,133.7) rotate(22.5)" class="q" style="stroke-width:1.3"/>
<ellipse rx="17.1" ry="26.9" transform="translate(658.3,133.7) rotate(22.5)" class="q" style="stroke-width:1.1"/>
<line x1="663.2" y1="94.6" x2="663.2" y2="106.5" class="l"/>
<ellipse rx="5.5" ry="8" transform="translate(627,136) rotate(20)" class="p" style="stroke-width:1.5"/>
<ellipse rx="3" ry="5.2" transform="translate(627.4,136) rotate(20)" class="p" style="stroke-width:1.2"/>
<line x1="627" y1="116.7" x2="627" y2="127" class="l" style="stroke-dasharray:1.5 1"/>
<ellipse rx="3.5" ry="4.5" transform="translate(629.4,159.4) rotate(20)" class="p" style="fill:#555;stroke-width:1"/>
<ellipse rx="1.3" ry="1.8" transform="translate(629.4,159.4) rotate(20)" class="p" style="stroke-width:0.6"/>
<line x1="612" y1="159.4" x2="626" y2="159.4" class="l" style="stroke-dasharray:1.5 1"/>
<g transform="translate(570.1,166.4) rotate(-4.09)">
<rect x="0" y="-2.7" width="15.4" height="5.4" class="p"/>
<line x1="1.5" y1="-2.7" x2="2.4" y2="2.7" class="q" style="stroke-width:0.9"/>
<line x1="3.3" y1="-2.7" x2="4.2" y2="2.7" class="q" style="stroke-width:0.9"/>
<line x1="5.1" y1="-2.7" x2="6.0" y2="2.7" class="q" style="stroke-width:0.9"/>
<line x1="6.9" y1="-2.7" x2="7.8" y2="2.7" class="q" style="stroke-width:0.9"/>
<line x1="8.7" y1="-2.7" x2="9.6" y2="2.7" class="q" style="stroke-width:0.9"/>
<line x1="10.5" y1="-2.7" x2="11.4" y2="2.7" class="q" style="stroke-width:0.9"/>
<line x1="12.3" y1="-2.7" x2="13.2" y2="2.7" class="q" style="stroke-width:0.9"/>
<line x1="14.1" y1="-2.7" x2="15.0" y2="2.7" class="q" style="stroke-width:0.9"/>
<path d="M14.9,-2.7 L15.4,-1.7000000000000002 L15.4,1.7000000000000002 L14.9,2.7" class="q"/>
<path d="M-8.5,-5.2 L0,-5.2 L0,5.2 L-8.5,5.2 Z" class="p"/>
<ellipse cx="0" cy="0" rx="1.9" ry="6.5" class="p" style="stroke-width:1.2"/>
<path d="M-8.5,-1.9 L-1.3,-2.3 M-8.5,2.3 L-1.3,2.6" class="q"/>
<ellipse cx="-8.5" cy="0" rx="2.6" ry="5.2" class="p" style="stroke-width:1.2"/>
</g>
<line x1="574" y1="151.3" x2="574" y2="162" class="l"/>
<path d="M585.5,164.7 L590.3,164 L613.6,181.8 L621,181.8" class="l"/>
<path d="M590.9,184 L619.6,187 L619.6,204.5 L589.3,203.7 Z" class="p" style="stroke-width:1.1"/>
<ellipse cx="590" cy="193.9" rx="3.6" ry="9.5" class="p" style="stroke-width:1.1"/>
<path d="M594,185 C596,190 596,199 594,203" class="q"/>
<path d="M636,189 L645,188 C651,188 652,199 645,200 L636,200 Z" class="p"/>
<ellipse cx="643.5" cy="194" rx="4" ry="6" class="q"/>
<path d="M622.6,172.7 C626,171.5 630,171.5 631.7,172 C634,173 636,175 636.3,176.5 L638.5,184.8 L637.8,195.4 L635.5,206 C634,209 632,210 630.2,209.8 C627,209.5 625,208.5 624.2,207.5 L619.5,196 L617.5,180 C618,176 620,174 622.6,172.7 Z" class="p" style="stroke-width:1.2"/>
<ellipse cx="624.5" cy="180.5" rx="4.2" ry="5" class="p" style="stroke-width:1.1"/>
<ellipse cx="624.5" cy="180.5" rx="2" ry="2.6" class="p" style="fill:#555"/>
<path d="M619.5,199 L632,198 M620,201.5 L632,200.5" class="q" style="stroke-width:1.2"/>
<path d="M628,173 C631,180 632,196 630,209" class="q"/>
<ellipse rx="5.4" ry="7.8" transform="translate(659,193.1) rotate(12)" class="p" style="stroke-width:1.5"/>
<ellipse rx="3.2" ry="5" transform="translate(659.3,193.3) rotate(12)" class="p" style="stroke-width:1.2"/>
<ellipse cx="659.6" cy="193.5" rx="1" ry="1.5" class="p" style="fill:#333;stroke-width:0.5"/>
<line x1="659.7" y1="201" x2="659.7" y2="215" class="l"/>
<line x1="630.8" y1="210" x2="630.8" y2="219" class="l"/>
<path d="M649.9,193.9 L665,193.1 L668.8,193 L668.8,169.7 L675,169.7" class="l"/>
<path d="M587,190.9 L568,189.6 L537.4,225" class="l"/>
<path d="M693.0,136.2 C694.0,134.2 696.5,131.5 698.7,130.0 C700.9,128.5 703.4,127.9 707.8,126.0 C712.2,124.1 724.5,118.8 728.3,117.4 C732.1,116.0 731.4,116.4 732.9,116.8 C734.4,117.2 736.7,119.1 738.6,120.3 C740.5,121.5 744.0,123.3 745.4,124.8 C746.8,126.3 746.7,128.8 747.7,130.5 C748.7,132.2 750.5,134.6 752.0,136.0 C753.5,137.4 756.5,138.2 757.7,140.0 C758.9,141.8 759.7,145.0 760.0,148.0 C760.3,151.0 759.8,156.7 759.5,160.0 C759.2,163.3 758.8,167.3 758.0,170.0 C757.2,172.7 755.5,175.6 754.3,178.0 C753.1,180.4 751.4,183.6 749.7,186.0 C748.0,188.4 745.3,192.2 742.9,194.3 C740.5,196.4 736.5,198.9 733.8,200.0 C731.1,201.1 727.8,201.0 724.8,201.5 C721.8,202.0 716.4,203.3 714.0,203.5 C711.6,203.7 710.9,204.0 708.9,203.0 C706.9,202.0 703.8,198.3 701.0,197.0 C698.2,195.7 692.9,195.7 690.0,194.3 C687.1,192.9 683.4,189.9 681.4,187.5 C679.4,185.1 677.7,181.8 676.8,178.4 C675.9,175.0 675.7,168.5 675.7,164.7 C675.7,160.9 676.1,155.9 676.8,153.3 C677.5,150.7 678.9,149.0 680.3,147.6 C681.7,146.2 684.2,144.9 686.0,144.2 C687.8,143.5 691.0,144.2 692.0,143.0 C693.0,141.8 692.0,138.1 693.0,136.2 Z" class="p" style="stroke-width:1.2"/>
<path d="M704.4,137.0 C706.6,135.1 715.6,131.9 720.0,130.0 C724.4,128.1 734.5,123.6 737.4,122.8 C740.3,122.0 741.1,123.0 742.0,124.0 C742.9,125.0 744.3,128.5 744.0,130.0 C743.7,131.5 742.5,133.5 740.0,135.0 C737.5,136.5 728.7,139.3 725.0,141.0 C721.3,142.7 714.6,146.4 712.0,147.5 C709.4,148.6 706.6,149.5 705.5,149.0 C704.4,148.5 703.6,145.6 703.5,144.0 C703.4,142.4 702.2,138.9 704.4,137.0 Z" class="q" style="stroke-width:1"/>
<path d="M693,136.2 C697,134 700,135 704.4,137 M697.5,132.8 L700,131.3" class="q" style="stroke-width:0.9"/>
<path d="M722,131.5 L738,126 M722,133.5 L738.5,128 M722.5,135.5 L739,130" class="q" style="stroke-width:0.7"/>
<ellipse rx="3.3" ry="3.8" transform="translate(710,142.5) rotate(-15)" class="p" style="stroke-width:1.2"/>
<ellipse rx="2.8" ry="3.3" transform="translate(740.8,128.2) rotate(-15)" class="p" style="stroke-width:1.1"/>
<ellipse rx="3.3" ry="3.8" transform="translate(728.9,140.8) rotate(-15)" class="p" style="stroke-width:1.1"/>
<path d="M745.0,136.0 C745.5,134.4 749.4,133.7 751.0,134.0 C752.6,134.3 755.9,136.4 757.0,138.0 C758.1,139.6 759.5,144.3 759.5,146.0 C759.5,147.7 758.1,150.5 757.0,151.0 C755.9,151.5 752.3,150.7 751.0,150.0 C749.7,149.3 747.8,147.9 747.0,146.0 C746.2,144.1 744.5,137.6 745.0,136.0 Z" class="q" style="stroke-width:1"/>
<path d="M748.0,165.0 C748.8,163.4 752.5,161.9 754.0,162.0 C755.5,162.1 758.5,164.3 759.0,166.0 C759.5,167.7 758.8,173.4 758.0,175.0 C757.2,176.6 754.3,178.1 753.0,178.0 C751.7,177.9 748.7,175.7 748.0,174.0 C747.3,172.3 747.2,166.6 748.0,165.0 Z" class="q" style="stroke-width:1"/>
<ellipse cx="753.5" cy="146.4" rx="1.8" ry="2.2" class="q" style="stroke-width:1"/>
<ellipse cx="753.5" cy="168.7" rx="1.8" ry="2.2" class="q" style="stroke-width:1"/>
<path d="M697,146 C702,160 703,180 701,196 M702,146 C707,160 709,180 707,198 M709,150 C712,162 713,178 712,195" class="q" style="stroke-width:0.9"/>
<ellipse cx="705.5" cy="170" rx="2.5" ry="3" class="p" style="stroke-width:1"/>
<ellipse rx="17.5" ry="24.3" transform="translate(731.5,168.4) rotate(15.2)" class="p" style="stroke-width:1.3"/>
<ellipse rx="15.5" ry="22" transform="translate(731.8,168.4) rotate(15.2)" class="q" style="stroke-width:0.7"/>
<path d="M741,151.5 C743.5,151 745,153 744.5,156 L743.5,160 L745,163 L744,169 C743.5,172 740.5,172 740,169 L740.5,163 L739.5,160 L740,155 C740,153 740,152 741,151.5 Z" class="q" style="stroke-width:1.1"/>
<path d="M717.5,160 L724,158.5 L725,181 L718.5,181.5 Z" class="p" style="fill:#999;stroke-width:1.1"/>
<path d="M719,163 L723.5,162 M719,167 L723.5,166 M719,171 L724,170 M719,175 L724,174.5" class="q" style="stroke-width:0.7"/>
<ellipse cx="732.8" cy="150.4" rx="2.3" ry="3" class="p" style="stroke-width:1.1"/>
<ellipse cx="732.8" cy="182.2" rx="2.3" ry="3" class="p" style="stroke-width:1.1"/>
<path d="M677.0,152.0 C677.7,148.7 680.3,146.0 682.0,145.0 C683.7,144.0 688.2,143.8 690.0,144.5 C691.8,145.2 694.6,147.3 695.5,150.0 C696.4,152.7 696.4,160.7 696.5,165.0 C696.6,169.3 696.6,178.7 696.0,182.0 C695.4,185.3 693.6,188.4 692.0,189.5 C690.4,190.6 685.8,190.6 684.0,190.0 C682.2,189.4 679.5,187.7 678.5,185.0 C677.5,182.3 676.7,174.4 676.5,170.0 C676.3,165.6 676.3,155.3 677.0,152.0 Z" class="p" style="stroke-width:1.1"/>
<ellipse cx="682.8" cy="167" rx="4.5" ry="6" class="p" style="stroke-width:1.2"/>
<ellipse cx="682.8" cy="167" rx="2.6" ry="3.8" class="p" style="fill:#666;stroke-width:0.8"/>
<ellipse cx="683.7" cy="153.3" rx="1.8" ry="2" class="q"/>
<ellipse cx="679.5" cy="183" rx="1.8" ry="2" class="q"/>
<path d="M690,146 C692,155 692,180 689,189" class="q" style="stroke-width:0.8"/>
<ellipse cx="708.9" cy="198.2" rx="5" ry="4.5" class="p" style="stroke-width:1.1"/>
<ellipse cx="708.9" cy="198.2" rx="2.6" ry="2.4" class="p" style="stroke-width:1.2"/>
<g transform="translate(761,223.5) rotate(-154.60)">
<rect x="0" y="-2.8" width="32.9" height="5.6" class="p"/>
<line x1="11.8" y1="-2.8" x2="12.7" y2="2.8" class="q" style="stroke-width:0.9"/>
<line x1="13.6" y1="-2.8" x2="14.5" y2="2.8" class="q" style="stroke-width:0.9"/>
<line x1="15.4" y1="-2.8" x2="16.3" y2="2.8" class="q" style="stroke-width:0.9"/>
<line x1="17.2" y1="-2.8" x2="18.1" y2="2.8" class="q" style="stroke-width:0.9"/>
<line x1="19.0" y1="-2.8" x2="19.9" y2="2.8" class="q" style="stroke-width:0.9"/>
<line x1="20.8" y1="-2.8" x2="21.7" y2="2.8" class="q" style="stroke-width:0.9"/>
<line x1="22.6" y1="-2.8" x2="23.5" y2="2.8" class="q" style="stroke-width:0.9"/>
<line x1="24.4" y1="-2.8" x2="25.3" y2="2.8" class="q" style="stroke-width:0.9"/>
<line x1="26.2" y1="-2.8" x2="27.1" y2="2.8" class="q" style="stroke-width:0.9"/>
<line x1="28.0" y1="-2.8" x2="28.9" y2="2.8" class="q" style="stroke-width:0.9"/>
<line x1="29.8" y1="-2.8" x2="30.7" y2="2.8" class="q" style="stroke-width:0.9"/>
<line x1="31.6" y1="-2.8" x2="32.5" y2="2.8" class="q" style="stroke-width:0.9"/>
<path d="M32.4,-2.8 L32.9,-1.7999999999999998 L32.9,1.7999999999999998 L32.4,2.8" class="q"/>
<path d="M-8.9,-5.6 L0,-5.6 L0,5.6 L-8.9,5.6 Z" class="p"/>
<ellipse cx="0" cy="0" rx="2.1" ry="7" class="p" style="stroke-width:1.2"/>
<path d="M-8.9,-2.1 L-1.4,-2.4 M-8.9,2.4 L-1.4,2.8" class="q"/>
<ellipse cx="-8.9" cy="0" rx="2.8" ry="5.6" class="p" style="stroke-width:1.2"/>
</g>
<line x1="731.3" y1="209.4" x2="720" y2="203.2" class="l"/>
<ellipse rx="8.3" ry="11.4" transform="translate(420.1,220.7) rotate(22)" class="q" style="stroke-width:1.4"/>
<ellipse rx="6.3" ry="9.3" transform="translate(420.1,220.7) rotate(22)" class="q" style="stroke-width:1.1"/>
<line x1="416.6" y1="232.5" x2="416.6" y2="243" class="l"/>
<ellipse rx="14.8" ry="22.5" transform="translate(449.6,233.2) rotate(24)" class="q" style="stroke-width:1.4"/>
<ellipse rx="12.6" ry="20.2" transform="translate(449.6,233.2) rotate(24)" class="q" style="stroke-width:1.1"/>
<line x1="447.1" y1="256.6" x2="447.1" y2="268.1" class="l"/>
<ellipse rx="19.5" ry="26.8" transform="translate(487.2,250.5) rotate(20)" class="p" style="stroke-width:1.2;fill:#fff"/>
<path d="M485.59,225.49 L488.39,224.49 L491.61,274.51 L488.81,275.51 Z" fill="#fff" stroke="none"/>
<path d="M485.59,225.49 L488.39,224.49 M488.81,275.51 L491.61,274.51" class="q" style="stroke-width:1.2"/>
<ellipse rx="19.5" ry="26.8" transform="translate(490,249.5) rotate(20)" class="p" style="stroke-width:1.2"/>
<ellipse rx="13.5" ry="18.5" transform="translate(490,250) rotate(20)" class="q" style="stroke-width:0.7"/>
<ellipse rx="8" ry="11" transform="translate(489.5,250.5) rotate(20)" class="p" style="stroke-width:1.1"/>
<ellipse rx="4.2" ry="6.3" transform="translate(489.5,250.5) rotate(20)" class="p" style="stroke-width:1.1"/>
<path d="M478,243 C478,236 483,232 488,231.5 M501,258 C501,265 496,269.5 491,270 M497,236 C501,240 503,246 502,252 M482,265 C478,262 477,257 477,252" class="q" style="stroke-width:1.7"/>
<path d="M484,238 C482,241 481,245 481,248 M495,262 C497,259 498,256 498,253" class="q" style="stroke-width:1.2"/>
<path d="M471,240 L470,246 M470,258 L471,264 M473,270 L475,274 M504,229 L506,233 M509,250 L508.5,255" class="q" style="stroke-width:1.5"/>
<ellipse cx="488" cy="270" rx="1" ry="1" class="q"/>
<path d="M486.8,288.3 L456.5,324.2 L443,322.8" class="l"/>
<path d="M441.5,322.7 L446.5,320.8 L446,324.8 Z" class="p" style="fill:#111;stroke-width:0.5"/>
<rect x="526" y="236.5" width="10" height="6" transform="rotate(15 531 239.5)" class="p" style="stroke-width:1.1"/>
<line x1="537" y1="226.4" x2="550" y2="210" class="l"/>
<ellipse rx="8.2" ry="15.5" transform="translate(519,267) rotate(8)" class="p" style="stroke-width:1.2;fill:#fff"/>
<path d="M521.78,251.78 L538.18,256.58 L532.62,287.02 L516.22,282.22 Z" fill="#fff" stroke="none"/>
<path d="M521.78,251.78 L538.18,256.58 M516.22,282.22 L532.62,287.02" class="q" style="stroke-width:1.2"/>
<path d="M514.3,281.1 L530.7,285.9 L529.4,284.4 L513.0,279.6 Z" fill="#444" stroke="#111" stroke-width="0.6"/>
<path d="M511.5,276.2 L527.9,281.0 L527.3,278.2 L510.9,273.4 Z" fill="#444" stroke="#111" stroke-width="0.6"/>
<path d="M510.6,268.8 L527.0,273.6 L527.3,270.4 L510.9,265.6 Z" fill="#444" stroke="#111" stroke-width="0.6"/>
<path d="M512.0,260.9 L528.4,265.7 L529.6,262.9 L513.2,258.1 Z" fill="#444" stroke="#111" stroke-width="0.6"/>
<path d="M515.3,254.7 L531.7,259.5 L533.3,257.8 L516.9,253.0 Z" fill="#444" stroke="#111" stroke-width="0.6"/>
<ellipse rx="8.2" ry="15.5" transform="translate(535.4,271.8) rotate(8)" class="p" style="stroke-width:1.2"/>
<line x1="540.3" y1="272.5" x2="542.5" y2="272.8" class="q" style="stroke-width:1.6"/>
<line x1="539.0" y1="277.0" x2="540.6" y2="279.4" class="q" style="stroke-width:1.6"/>
<line x1="536.7" y1="280.1" x2="537.3" y2="284.0" class="q" style="stroke-width:1.6"/>
<line x1="534.1" y1="281.0" x2="533.5" y2="285.3" class="q" style="stroke-width:1.6"/>
<line x1="531.8" y1="279.4" x2="530.2" y2="283.0" class="q" style="stroke-width:1.6"/>
<line x1="530.5" y1="275.8" x2="528.3" y2="277.7" class="q" style="stroke-width:1.6"/>
<line x1="530.5" y1="271.1" x2="528.3" y2="270.8" class="q" style="stroke-width:1.6"/>
<line x1="531.8" y1="266.6" x2="530.2" y2="264.2" class="q" style="stroke-width:1.6"/>
<line x1="534.1" y1="263.5" x2="533.5" y2="259.6" class="q" style="stroke-width:1.6"/>
<line x1="536.7" y1="262.6" x2="537.3" y2="258.3" class="q" style="stroke-width:1.6"/>
<line x1="539.0" y1="264.2" x2="540.6" y2="260.6" class="q" style="stroke-width:1.6"/>
<line x1="540.3" y1="267.8" x2="542.5" y2="265.9" class="q" style="stroke-width:1.6"/>
<ellipse rx="4.3" ry="6.2" transform="translate(535.1,272.0) rotate(8)" class="p" style="stroke-width:1.2"/>
<ellipse rx="16" ry="22.6" transform="translate(561,284) rotate(15.7)" class="p" style="stroke-width:1.3;fill:#fff"/>
<path d="M567.06,262.23 L579.76,265.73 L567.64,309.27 L554.94,305.77 Z" fill="#fff" stroke="none"/>
<path d="M567.06,262.23 L579.76,265.73 M554.94,305.77 L567.64,309.27" class="q" style="stroke-width:1.3"/>
<ellipse rx="16" ry="22.6" transform="translate(573.7,287.5) rotate(15.7)" class="p" style="stroke-width:1.3"/>
<ellipse rx="12.6" ry="16.2" transform="translate(573.3,287.3) rotate(20)" class="p" style="stroke-width:1.2"/>
<path d="M566,276 C562,284 562,295 567,302" class="q" style="stroke-width:1"/>
<ellipse rx="19.5" ry="29" transform="translate(613,306.5) rotate(20)" class="p" style="stroke-width:1.2;fill:#fff"/>
<path d="M619.68,278.51 L629.68,279.51 L616.32,335.49 L606.32,334.49 Z" fill="#fff" stroke="none"/>
<path d="M619.68,278.51 L629.68,279.51 M606.32,334.49 L616.32,335.49" class="q" style="stroke-width:1.2"/>
<ellipse rx="19.5" ry="29" transform="translate(623,307.5) rotate(20)" class="p" style="stroke-width:1.4"/>
<ellipse rx="17.5" ry="27" transform="translate(623,307.5) rotate(20)" class="q" style="stroke-width:0.7"/>
<path d="M628.5,291.2 L639.7,294.4 M629.3,297.5 L640.5,300.7 M627.7,300 L639.7,304 M628.5,308.7 L638.9,312.7 M628.5,291.2 L628,308.7 M607.8,327.9 L626.9,324.7 L638.1,316.7" class="q" style="stroke-width:0.9"/>
<path d="M616,284.5 L617.5,288 L615,289 L616.5,292 L613.5,293 L614,296 C610,302 607.5,310 607,318 C607,324 608.5,329 611,332" class="q" style="stroke-width:1.1"/>
<path d="M612,280 L620,278.5 L622,284 L614,286 Z" class="p" style="stroke-width:1"/>
<ellipse cx="626.1" cy="322.3" rx="1.4" ry="1.6" class="q"/>
<ellipse cx="599.5" cy="298.5" rx="1.8" ry="2.1" class="p" style="stroke-width:1"/>
<ellipse cx="596" cy="318" rx="1.5" ry="1.7" class="q"/>
<g transform="translate(660.8,310.4) rotate(25)"><rect x="0" y="-1.5" width="31" height="3" rx="1.5" class="p"/></g>
<path d="M640,332 L642,330.5 L656,338 L654.5,341 Z" class="p" style="fill:#555;stroke-width:0.9"/>
<path d="M645.5,330.5 L648,329.2 L662,336 L660,338.6 Z" class="p" style="fill:#555;stroke-width:0.9"/>
<path d="M643,331 L657,338.5 M648,330.5 L661,337" class="q" style="stroke:#ddd;stroke-width:0.6;stroke-dasharray:1 1"/>
<line x1="641.2" y1="336" x2="641.2" y2="344.2" class="l"/>
<line x1="658.5" y1="336.6" x2="671" y2="336.6" class="l"/>
<text x="12.2" y="79.5" class="t">6</text>
<text x="75.6" y="156" class="t">4</text>
<text x="161.8" y="71" class="t">7</text>
<text x="190.5" y="84.5" class="t">8</text>
<text x="243.6" y="119.7" class="t">3</text>
<text x="300.1" y="138.6" class="t">9</text>
<text x="335.0" y="91.5" class="t" textLength="14.0" lengthAdjust="spacingAndGlyphs">16</text>
<text x="216.3" y="247.6" class="t" textLength="16.2" lengthAdjust="spacingAndGlyphs">22</text>
<text x="227.2" y="309.7" class="t" textLength="14.9" lengthAdjust="spacingAndGlyphs">23</text>
<text x="304.9" y="345.5" class="t" textLength="14.6" lengthAdjust="spacingAndGlyphs">15</text>
<text x="410.5" y="258.2" class="t" textLength="13.4" lengthAdjust="spacingAndGlyphs">14</text>
<text x="441.2" y="282.5" class="t" textLength="13.7" lengthAdjust="spacingAndGlyphs">17</text>
<text x="456.2" y="81.6" class="t" textLength="14.9" lengthAdjust="spacingAndGlyphs">24</text>
<text x="578.7" y="58.6" class="t">5</text>
<text x="698.2" y="49.8" class="t">1</text>
<text x="657.2" y="89.9" class="t" textLength="13.6" lengthAdjust="spacingAndGlyphs">18</text>
<text x="620.2" y="111.6" class="t" textLength="13.8" lengthAdjust="spacingAndGlyphs">19</text>
<text x="566.2" y="147.2" class="t" textLength="14.1" lengthAdjust="spacingAndGlyphs">21</text>
<text x="595.2" y="163.6" class="t" textLength="13.8" lengthAdjust="spacingAndGlyphs">13</text>
<text x="626.2" y="234.7" class="t">2</text>
<text x="653.6" y="228" class="t" textLength="13.8" lengthAdjust="spacingAndGlyphs">12</text>
<text x="738.4" y="245.3" class="t" textLength="14.6" lengthAdjust="spacingAndGlyphs">20</text>
<text x="634.8" y="358.3" class="t" textLength="13.5" lengthAdjust="spacingAndGlyphs">10</text>
<text x="672.7" y="341.1" class="t" textLength="12.5" lengthAdjust="spacingAndGlyphs">11</text>
<text x="384.3" y="318.9" class="b" textLength="51.5" lengthAdjust="spacingAndGlyphs">B-33-61</text>
<text x="384.3" y="332.9" class="b" textLength="53" lengthAdjust="spacingAndGlyphs">B-33-62</text>
<text x="706.8" y="371" class="t" style="font-size:10.3px" textLength="53.5" lengthAdjust="spacingAndGlyphs">SWA7E4900</text>
<g transform="translate(35.7,364.6) rotate(-19)"><path d="M-0.5,0.5 L8.5,-9.5 L9,-4.5 L27.5,-4.5 L27.5,4.2 L9.5,4.2 L10.5,9.5 Z" fill="#111" stroke="#111" stroke-width="0.6" stroke-linejoin="round"/><text x="28.3" y="4.2" class="b" style="font-size:14.5px;stroke-width:0.8px" textLength="24" lengthAdjust="spacingAndGlyphs">FR.</text></g>
<rect x="405" y="243" width="22.7" height="16.7" fill="none" stroke="#4cbbe8" stroke-width="1.9"/>
</svg>
</body></html>
